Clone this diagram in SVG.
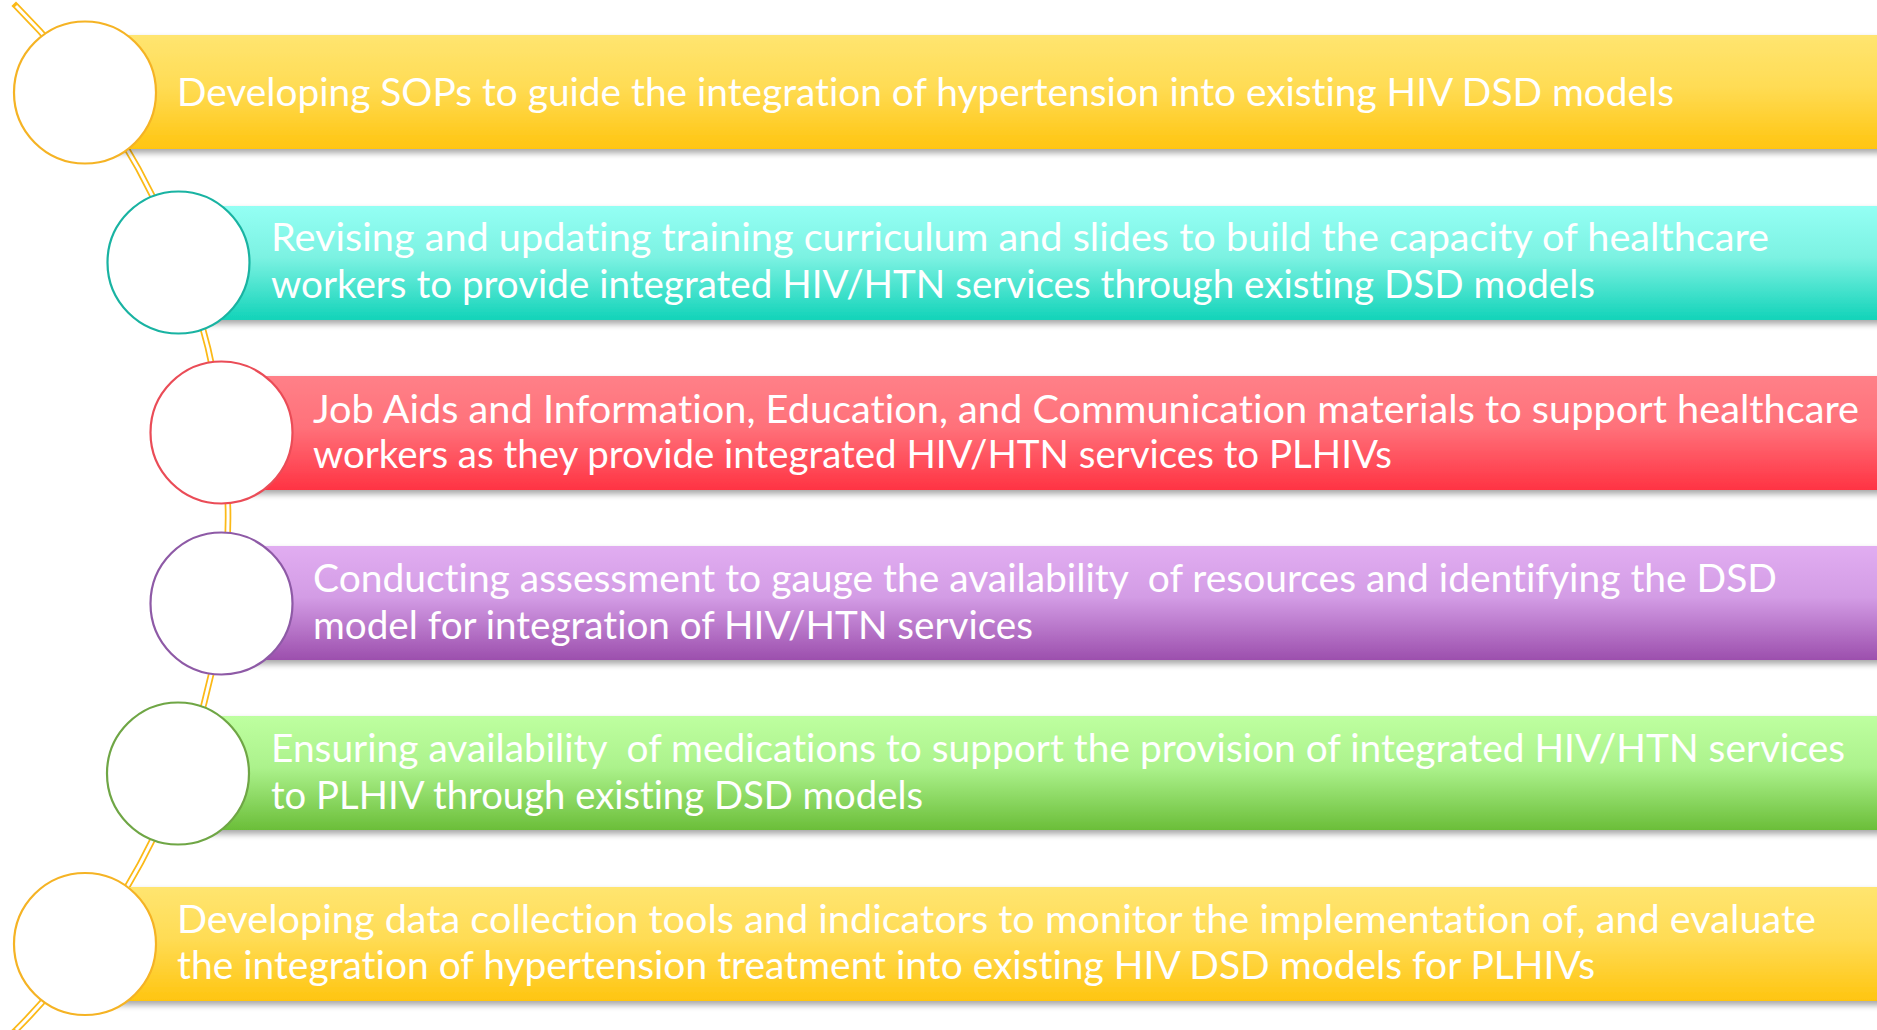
<svg xmlns="http://www.w3.org/2000/svg" width="1877" height="1030" viewBox="0 0 1877 1030">
  <defs>
    <linearGradient id="gYellow" x1="0" y1="0" x2="0" y2="1">
      <stop offset="0" stop-color="#FFE570"/>
      <stop offset="0.45" stop-color="#FFDC55"/>
      <stop offset="1" stop-color="#FFC510"/>
    </linearGradient>
    <linearGradient id="gTeal" x1="0" y1="0" x2="0" y2="1">
      <stop offset="0" stop-color="#94FFF4"/>
      <stop offset="0.45" stop-color="#7CF2E2"/>
      <stop offset="1" stop-color="#12D3B9"/>
    </linearGradient>
    <linearGradient id="gRed" x1="0" y1="0" x2="0" y2="1">
      <stop offset="0" stop-color="#FF8088"/>
      <stop offset="0.45" stop-color="#FF717A"/>
      <stop offset="1" stop-color="#FF3343"/>
    </linearGradient>
    <linearGradient id="gPurple" x1="0" y1="0" x2="0" y2="1">
      <stop offset="0" stop-color="#E1ADF1"/>
      <stop offset="0.45" stop-color="#D39CE5"/>
      <stop offset="1" stop-color="#9C4FAD"/>
    </linearGradient>
    <linearGradient id="gGreen" x1="0" y1="0" x2="0" y2="1">
      <stop offset="0" stop-color="#BEFFA0"/>
      <stop offset="0.45" stop-color="#ACF28C"/>
      <stop offset="1" stop-color="#6BBE39"/>
    </linearGradient>
    <filter id="shadow" x="-5%" y="-20%" width="110%" height="150%">
      <feDropShadow dx="0" dy="4" stdDeviation="3" flood-color="#000" flood-opacity="0.35"/>
    </filter>
  </defs>
  <style>
    .bar { filter: url(#shadow); }
    .node-circle { fill: #FFFFFF; stroke-width: 2.2; }
    .label { font-family: Lato, "Open Sans", "Liberation Sans", sans-serif; font-size: 39px; fill: #FFFFFF; font-variant-ligatures: none; white-space: pre; }
    .conn-outer { fill: none; stroke: #FBB917; stroke-width: 6.5; stroke-linecap: square; }
    .conn-inner { fill: none; stroke: #FFFFFF; stroke-width: 3; stroke-linecap: butt; }
  </style>
  <rect width="1877" height="1030" fill="#FFFFFF"/>

  <g id="connectors">
    <path class="conn-outer" d="M 16 6 A 724 724 0 0 1 16 1030"/>
    <path class="conn-inner" d="M 16 6 A 724 724 0 0 1 16 1030"/>
  </g>

  <g id="node1">
    <rect class="bar" x="85" y="35" width="1800" height="114" fill="url(#gYellow)"/>
    <circle class="node-circle" cx="85" cy="92.5" r="71" stroke="#F5B324"/>
    <text class="label" x="177" y="106" textLength="1497" lengthAdjust="spacingAndGlyphs">Developing SOPs to guide the integration of hypertension into existing HIV DSD models</text>
  </g>

  <g id="node2">
    <rect class="bar" x="178" y="206" width="1710" height="114" fill="url(#gTeal)"/>
    <circle class="node-circle" cx="178.5" cy="262.5" r="71" stroke="#19B3A2"/>
    <text class="label" x="271" y="251" textLength="1498" lengthAdjust="spacingAndGlyphs">Revising and updating training curriculum and slides to build the capacity of healthcare</text>
    <text class="label" x="271" y="298" textLength="1324" lengthAdjust="spacingAndGlyphs">workers to provide integrated HIV/HTN services through existing DSD models</text>
  </g>

  <g id="node3">
    <rect class="bar" x="221" y="376" width="1670" height="114" fill="url(#gRed)"/>
    <circle class="node-circle" cx="221.5" cy="432.5" r="71" stroke="#EA4C57"/>
    <text class="label" x="313" y="423" textLength="1546" lengthAdjust="spacingAndGlyphs">Job Aids and Information, Education, and Communication materials to support healthcare</text>
    <text class="label" x="313" y="468" textLength="1079" lengthAdjust="spacingAndGlyphs">workers as they provide integrated HIV/HTN services to PLHIVs</text>
  </g>

  <g id="node4">
    <rect class="bar" x="221" y="546" width="1670" height="114" fill="url(#gPurple)"/>
    <circle class="node-circle" cx="221.5" cy="603.5" r="71" stroke="#8E5AA6"/>
    <text class="label" x="313" y="592" textLength="1464" lengthAdjust="spacingAndGlyphs">Conducting assessment to gauge the availability  of resources and identifying the DSD</text>
    <text class="label" x="313" y="639" textLength="720" lengthAdjust="spacingAndGlyphs">model for integration of HIV/HTN services</text>
  </g>

  <g id="node5">
    <rect class="bar" x="178" y="716" width="1710" height="114" fill="url(#gGreen)"/>
    <circle class="node-circle" cx="178" cy="773.5" r="71" stroke="#6FA645"/>
    <text class="label" x="271" y="762" textLength="1574" lengthAdjust="spacingAndGlyphs">Ensuring availability  of medications to support the provision of integrated HIV/HTN services</text>
    <text class="label" x="271" y="809" textLength="652" lengthAdjust="spacingAndGlyphs">to PLHIV through existing DSD models</text>
  </g>

  <g id="node6">
    <rect class="bar" x="85" y="887" width="1800" height="114" fill="url(#gYellow)"/>
    <circle class="node-circle" cx="85" cy="944" r="71" stroke="#F5B324"/>
    <text class="label" x="177" y="933" textLength="1639" lengthAdjust="spacingAndGlyphs">Developing data collection tools and indicators to monitor the implementation of, and evaluate</text>
    <text class="label" x="177" y="979" textLength="1418" lengthAdjust="spacingAndGlyphs">the integration of hypertension treatment into existing HIV DSD models for PLHIVs</text>
  </g>
</svg>
